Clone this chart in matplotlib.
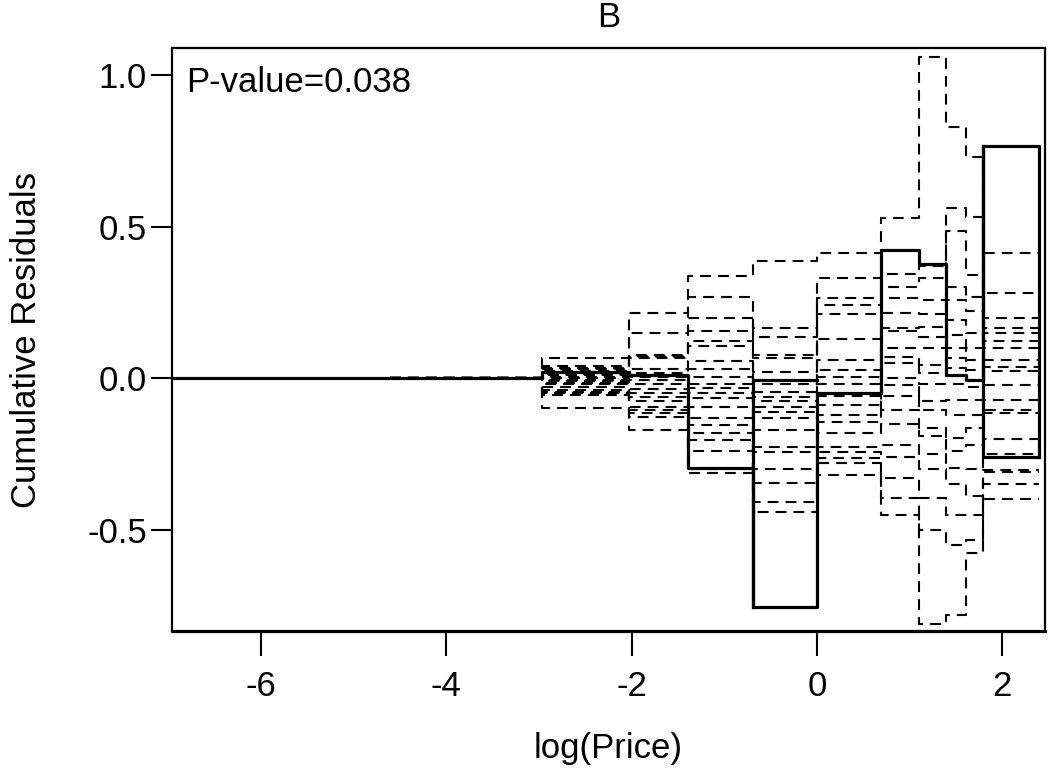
import matplotlib
matplotlib.use('Agg')
import matplotlib.pyplot as plt
import numpy as np

plt.rcParams['font.family'] = ['Liberation Sans', 'DejaVu Sans']
plt.rcParams['axes.unicode_minus'] = False

# jump points on the log(Price) axis
breaks = [-2.97, -2.03, -1.39, -0.69, 0.00, 0.69, 1.10, 1.39, 1.61, 1.79, 2.40]
x_min, x_max = -6.96, 2.46
y_min, y_max = -0.834, 1.089
sim_start = -4.61

# observed cumulative residual, one value per interval (first one from the left edge)
obs_vals = [0.0, 0.02, 0.01, -0.295, -0.754, -0.05, 0.423, 0.377, 0.01, -0.005, 0.765]
obs_end = -0.26
# intervals where the observed curve also has a second horizontal (box shape)
obs_extra_idx = [4, 10]
obs_extra_val = [-0.006, -0.26]

# simulated paths: level of each of the 20 realisations in each interval
lev1 = [0.066, 0.040, 0.035, 0.030, 0.025, 0.020, 0.015, 0.010, 0.005, 0.000,
        -0.005, -0.010, -0.015, -0.020, -0.030, -0.040, -0.045, -0.050, -0.055, -0.098]
lev2 = [0.214, 0.148, 0.078, 0.074, 0.070, 0.066, 0.030, 0.016, 0.005, -0.006,
        -0.020, -0.035, -0.050, -0.062, -0.077, -0.094, -0.105, -0.116, -0.127, -0.171]
lev3 = [0.338, 0.269, 0.200, 0.154, 0.121, 0.107, 0.058, 0.030, 0.005, -0.020,
        -0.033, -0.050, -0.066, -0.094, -0.132, -0.154, -0.182, -0.204, -0.240, -0.314]
lev4 = [0.385, 0.165, 0.137, 0.077, 0.066, 0.020, -0.020, -0.045, -0.061, -0.077,
        -0.094, -0.110, -0.132, -0.171, -0.226, -0.242, -0.300, -0.347, -0.407, -0.440]
lev5 = [0.413, 0.330, 0.265, 0.240, 0.212, 0.130, 0.060, 0.027, 0.005, -0.020,
        -0.060, -0.090, -0.121, -0.146, -0.180, -0.226, -0.242, -0.265, -0.280, -0.319]
lev6 = [0.528, 0.344, 0.300, 0.264, 0.214, 0.166, 0.154, 0.100, 0.071, 0.050,
        0.000, -0.022, -0.060, -0.105, -0.150, -0.220, -0.260, -0.330, -0.396, -0.451]
lev7 = [1.060, 0.370, 0.330, 0.258, 0.210, 0.170, 0.135, 0.100, 0.043, 0.017,
        -0.020, -0.077, -0.105, -0.165, -0.190, -0.250, -0.300, -0.396, -0.500, -0.810]
lev8 = [0.830, 0.561, 0.484, 0.300, 0.258, 0.192, 0.143, 0.100, 0.066, 0.033,
        -0.020, -0.072, -0.120, -0.198, -0.240, -0.297, -0.350, -0.450, -0.550, -0.781]
lev9 = [0.730, 0.533, 0.340, 0.269, 0.220, 0.149, 0.099, 0.060, 0.027, -0.005,
        -0.030, -0.072, -0.120, -0.165, -0.220, -0.300, -0.390, -0.450, -0.534, -0.578]
lev10 = [0.413, 0.281, 0.200, 0.165, 0.149, 0.121, 0.099, 0.060, 0.038, 0.022,
         -0.022, -0.072, -0.105, -0.115, -0.200, -0.250, -0.303, -0.308, -0.350, -0.400]

x_ticks = [-6, -4, -2, 0, 2]
y_ticks = [-0.5, 0.0, 0.5, 1.0]

fig = plt.figure(figsize=(10.5, 7.73), dpi=100)
ax = fig.add_axes([0.1638, 0.1837, 0.8314, 0.7542])

sims = np.array([lev1, lev2, lev3, lev4, lev5, lev6, lev7, lev8, lev9, lev10]).T
sim_x = [sim_start] + breaks
for path in sims:
    sim_y = [0.0] + list(path) + [path[-1]]
    ax.step(sim_x, sim_y, where='post', color='black', lw=1.5,
            dashes=(5.2, 3.4), zorder=2)

obs_x = [x_min] + breaks
ax.step(obs_x, obs_vals + [obs_end], where='post', color='black', lw=2.3, zorder=3)
for i, v in zip(obs_extra_idx, obs_extra_val):
    ax.plot([obs_x[i + 1], obs_x[i], obs_x[i]], [v, v, obs_vals[i]],
            color='black', lw=2.3, zorder=3)

ax.set_xlim(x_min, x_max)
ax.set_ylim(y_min, y_max)
ax.set_xticks(x_ticks)
ax.set_yticks(y_ticks)
ax.set_xticklabels([str(t) for t in x_ticks])
ax.set_yticklabels(['%.1f' % t for t in y_ticks])
ax.tick_params(axis='x', direction='out', length=18, width=1.5, pad=10, labelsize=25)
ax.tick_params(axis='y', direction='out', length=15, width=1.5, pad=3, labelsize=25)
for s in ax.spines.values():
    s.set_linewidth(1.6)
ax.spines['bottom'].set_linewidth(2.3)

ax.set_xlabel('log(Price)', fontsize=25, labelpad=21)
ax.set_ylabel('Cumulative Residuals', fontsize=25, labelpad=32)
ax.set_title('B', fontsize=25, pad=15)
ax.text(0.016, 0.9245, 'P-value=0.038', transform=ax.transAxes, fontsize=25,
        ha='left', va='baseline')

fig.savefig('out.png', dpi=100)
